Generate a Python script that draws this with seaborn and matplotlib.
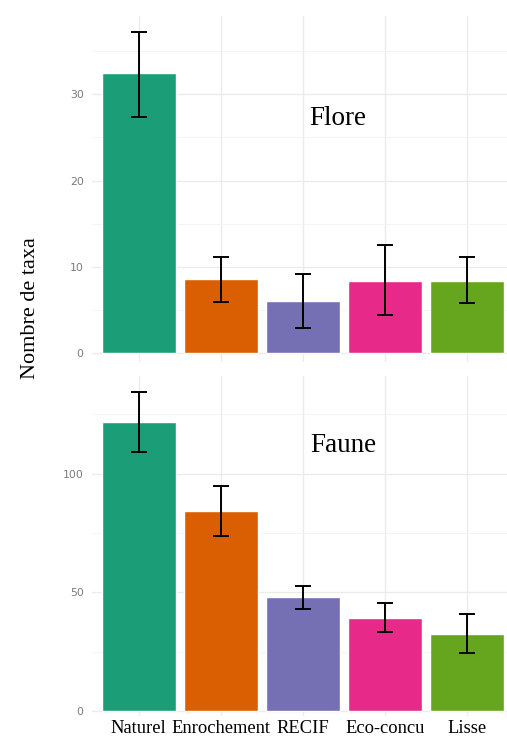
import pandas as pd
import matplotlib
matplotlib.use("Agg")
import matplotlib.pyplot as plt
import seaborn as sns

# valeurs
sites = ["Naturel", "Enrochement", "RECIF", "Eco-concu", "Lisse"]
flore_moy = [32.4, 8.6, 6.1, 8.4, 8.4]
flore_bas = [27.4, 6.0, 3.0, 4.4, 5.8]
flore_haut = [37.2, 11.2, 9.2, 12.5, 11.1]
faune_moy = [121.7, 84.4, 47.9, 39.2, 32.6]
faune_bas = [108.9, 73.9, 42.9, 33.2, 24.5]
faune_haut = [134.4, 95.0, 52.9, 45.4, 41.1]
couleurs = ["#1B9E77", "#D95F02", "#7570B3", "#E7298A", "#66A61E"]

sns.set_style("white")
serif = ["Liberation Serif", "DejaVu Serif"]

fig = plt.figure(figsize=(5.07, 7.42), dpi=100)
ax1 = fig.add_axes([0.1815, 0.512, 0.8185, 0.466])
ax2 = fig.add_axes([0.1815, 0.035, 0.8185, 0.458])


def panneau(ax, moy, bas, haut, titre, ylim, major, minor, tx, ty):
    df = pd.DataFrame({"site": sites, "n": moy})
    sns.barplot(data=df, x="site", y="n", hue="site", palette=couleurs,
                width=0.9, legend=False, ax=ax, saturation=1, zorder=2)
    err = [[m - b for m, b in zip(moy, bas)], [h - m for m, h in zip(moy, haut)]]
    ax.errorbar(range(len(sites)), moy, yerr=err, fmt="none", ecolor="black",
                elinewidth=1.4, capsize=6, capthick=1.4, zorder=3)
    ax.set_xlim(-0.57, 4.49)
    ax.set_ylim(*ylim)
    ax.set_yticks(major)
    ax.set_yticks(minor, minor=True)
    ax.grid(True, which="major", color="#ebebeb", linewidth=1.0, zorder=0)
    ax.grid(True, which="minor", axis="y", color="#f3f3f3", linewidth=0.6, zorder=0)
    ax.set_axisbelow(True)
    for s in ax.spines.values():
        s.set_visible(False)
    ax.tick_params(axis="y", which="major", length=3, color="#dddddd",
                   labelsize=7.8, labelcolor="#7a7a7a", pad=3)
    ax.tick_params(axis="y", which="minor", length=0)
    ax.tick_params(axis="x", length=3, color="#333333", width=0.6)
    ax.set_xlabel("")
    ax.set_ylabel("")
    ax.text(tx, ty, titre, fontsize=19.5, family=serif, color="black",
            ha="center", va="center")


panneau(ax1, flore_moy, flore_bas, flore_haut, "Flore", (-1, 39),
        [0, 10, 20, 30], [5, 15, 25, 35], 2.43, 27.2)
panneau(ax2, faune_moy, faune_bas, faune_haut, "Faune", (-2, 141),
        [0, 50, 100], [25, 75, 125], 2.49, 111.7)

ax1.set_xticklabels([])
ax2.set_xticks(range(len(sites)))
ax2.set_xticklabels(sites, fontsize=13.3, family=serif, color="black")
ax2.tick_params(axis="x", pad=0.5, length=2.5)

fig.text(0.06, 0.585, "Nombre de taxa", rotation=90, fontsize=16,
         family=serif, color="black", ha="center", va="center")

fig.savefig("out.png", dpi=100, facecolor="white")
